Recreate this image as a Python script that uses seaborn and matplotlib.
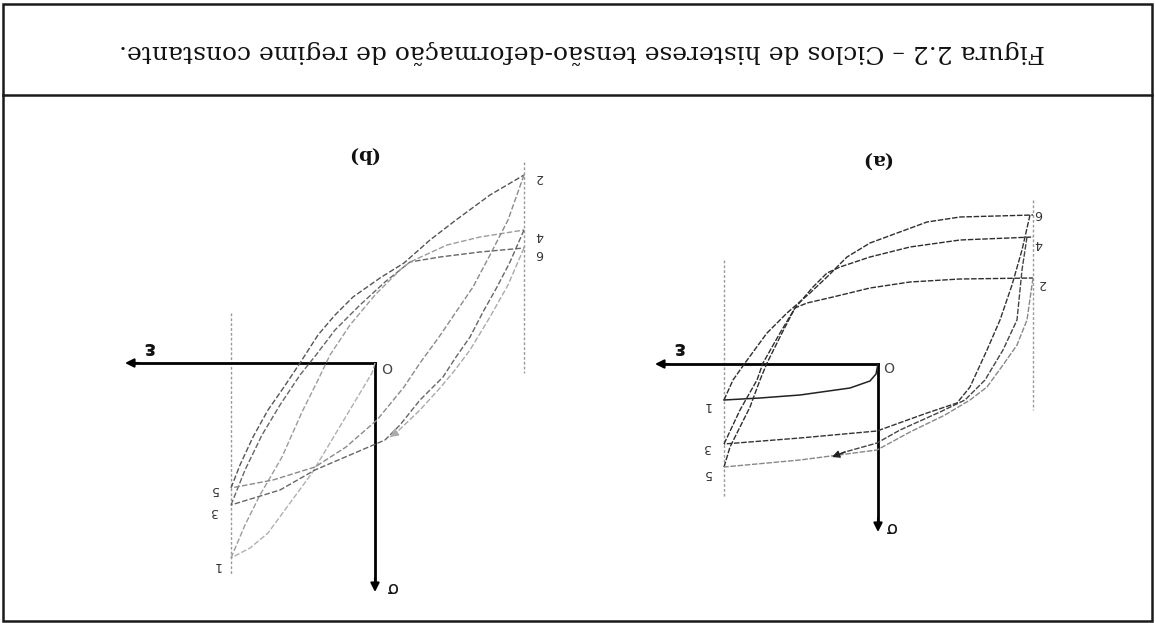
import matplotlib
matplotlib.use("Agg")
import matplotlib.pyplot as plt
from matplotlib.patches import Rectangle
import seaborn as sns

W, H = 1155, 623

caption = "Figura 2.2 – Ciclos de histerese tensão-deformação de regime constante."

# ---------------------------------------------------------------------------
# Panel (a) - strain units (+ right) and stress units (+ up), drawing scale
# ---------------------------------------------------------------------------
a_strain_limits = [154, -155]
a_limit_top = [-104, -164]
a_limit_bottom = [134, 46]

a_initial_eps = [0, 2, 8, 28, 78, 118, 154]
a_initial_sig = [0, 10, 17, 24, 31, 34, 36]

# loading branches (from the + strain limit to the - strain limit)
a_load1_eps = [154, 145, 133, 111, 91, 68, 51, 31, 8, -49, -82, -155]
a_load1_sig = [36, 16, -1, -31, -51, -71, -87, -107, -121, -142, -147, -149]
a_load2_eps = [154, 138, 121, 115, 98, 83, 65, 51, 38, 8, -32, -82, -155]
a_load2_sig = [80, 46, 16, -1, -31, -56, -77, -91, -97, -107, -117, -124, -127]
a_load3_eps = [154, 148, 128, 118, 111, 96, 83, 71, 45, 8, -32, -82, -155]
a_load3_sig = [103, 83, 43, 16, -1, -31, -56, -61, -67, -76, -82, -85, -86]

# unloading branches (from the - strain limit back to the + strain limit)
a_unload1_eps = [-152, -144, -134, -122, -109, -92, -79, -49, 1, 78, 154]
a_unload1_sig = [-149, -114, -79, -44, -14, 23, 39, 49, 67, 74, 80]
a_unload2_eps = [-149, -144, -139, -125, -107, -87, -62, -22, 1, 33, 46]
a_unload2_sig = [-127, -94, -44, -14, 16, 36, 48, 66, 79, 88, 93]
a_unload3_eps = [-155, -149, -139, -125, -109, -92, -67, -32, 1, 78, 154]
a_unload3_sig = [-86, -44, -19, 1, 23, 36, 51, 68, 86, 96, 103]

a_point_names = ["1", "3", "5", "2", "4", "6"]
a_point_eps = [171, 171, 171, -164, -160, -160]
a_point_sig = [41, 84, 109, -81, -121, -151]

a_axis_eps_tip = 223
a_axis_sig_tip = 168

# ---------------------------------------------------------------------------
# Panel (b)
# ---------------------------------------------------------------------------
b_strain_limits = [144, -149]
b_limit_top = [-50, -201]
b_limit_bottom = [212, 10]

b_initial_eps = [0, 3, 27, 63, 107, 125, 144]
b_initial_sig = [0, 10, 50, 110, 170, 185, 195]

b_load1_eps = [144, 135, 122, 107, 91, 75, 57, 40, 22, -5, -29, -55, -81, -115, -149]
b_load1_sig = [125, 102, 74, 47, 24, 0, -28, -48, -66, -85, -100, -123, -143, -168, -188]
b_load2_eps = [144, 130, 113, 95, 75, 59, 40, 15, -10, -35, -65, -105, -149]
b_load2_sig = [142, 107, 72, 42, 12, -8, -33, -58, -81, -101, -106, -111, -115]
b_load3_eps = [144, 130, 115, 93, 73, 57, 45, 25, 0, -25, -35, -72, -105, -149]
b_load3_sig = [195, 162, 132, 94, 49, 17, -8, -38, -68, -93, -101, -118, -126, -133]

b_unload1_eps = [-149, -133, -115, -98, -81, -64, -45, -29, -2, 29, 60, 102, 144]
b_unload1_sig = [-188, -143, -108, -76, -51, -26, 0, 24, 57, 84, 104, 117, 125]
b_unload2_eps = [-149, -135, -122, -108, -95, -81, -68, -45, -25, -10, 25, 60, 95, 144]
b_unload2_sig = [-133, -101, -76, -51, -26, -6, 14, 37, 62, 77, 92, 107, 127, 142]
b_unload3_eps = [-149, -133, -115, -95, -80, -65, -45, -22, -15]
b_unload3_sig = [-115, -78, -46, -13, 7, 25, 47, 69, 74]

b_point_names = ["1", "3", "5", "2", "4", "6"]
b_point_eps = [158, 161, 161, -164, -164, -164]
b_point_sig = [203, 148, 127, -185, -128, -110]

b_axis_eps_tip = 250
b_axis_sig_tip = 229

# ---------------------------------------------------------------------------
fig = plt.figure(figsize=(W / 100, H / 100), dpi=100)
fig.patch.set_facecolor("white")

# page frame and caption band, in pixel units
frame = fig.add_axes([0, 0, 1, 1])
frame.set_xlim(0, W)
frame.set_ylim(H, 0)
frame.set_axis_off()
frame.add_patch(Rectangle((2.5, 3.5), 1149, 617, fill=False, lw=1.8, ec="#1a1a1a"))
frame.plot([2.5, 1151.5], [95, 95], color="#1a1a1a", lw=1.8)
frame.text(582, 52, caption, rotation=180, ha="center", va="center",
           fontsize=18, family="DejaVu Serif", color="#111")


def panel(origin, box):
    """Axes whose data units are drawing pixels, turned upside down."""
    ox, oy = origin
    x0, y0, x1, y1 = box
    ax = fig.add_axes([x0 / W, 1 - y1 / H, (x1 - x0) / W, (y1 - y0) / H])
    ax.set_xlim(ox - x0, ox - x1)
    ax.set_ylim(y1 - oy, y0 - oy)
    ax.set_axis_off()
    ax.patch.set_alpha(0)
    return ax


def curve(ax, eps, sig, color="#3a3a3a", dash=(0, (4, 1.2)), lw=1.0):
    sns.lineplot(x=eps, y=sig, sort=False, estimator=None, ax=ax, color=color,
                 lw=lw, linestyle=dash, legend=False)


def axes_arrows(ax, eps_tip, sig_tip):
    curve(ax, [0, eps_tip - 8], [0, 0], color="black", dash="-", lw=2.0)
    curve(ax, [0, 0], [0, sig_tip - 8], color="black", dash="-", lw=2.0)
    ax.annotate("", xy=(eps_tip, 0), xytext=(eps_tip - 14, 0),
                arrowprops=dict(arrowstyle="-|>", color="black", lw=1.5,
                                mutation_scale=13, shrinkA=0, shrinkB=0))
    ax.annotate("", xy=(0, sig_tip), xytext=(0, sig_tip - 14),
                arrowprops=dict(arrowstyle="-|>", color="black", lw=1.5,
                                mutation_scale=13, shrinkA=0, shrinkB=0))


def limits(ax, eps_list, tops, bottoms):
    for e, t, b in zip(eps_list, tops, bottoms):
        curve(ax, [e, e], [t, b], color="#9a9a9a", dash=(0, (2, 1.5)), lw=1.0)


def labels(ax, names, eps, sig):
    for n, e, s in zip(names, eps, sig):
        ax.text(e, s, n, rotation=180, ha="center", va="center", fontsize=9,
                color="#333", family="DejaVu Sans")


def common_text(ax, title, title_pos, eps_pos, sig_pos, o_pos):
    ax.text(*title_pos, title, rotation=180, ha="center", va="center",
            fontsize=14, fontweight="bold", family="DejaVu Serif", color="#111")
    ax.text(*eps_pos, "ε", rotation=180, ha="center", va="center",
            fontsize=15, fontweight="bold", color="#111")
    ax.text(*sig_pos, "σ", rotation=180, ha="center", va="center",
            fontsize=13, color="#111")
    ax.text(*o_pos, "O", rotation=180, ha="center", va="center",
            fontsize=10, color="#444")


# ----- panel (a)
ax_a = panel((878, 364), (600, 120, 1100, 600))
limits(ax_a, a_strain_limits, a_limit_top, a_limit_bottom)
axes_arrows(ax_a, a_axis_eps_tip, a_axis_sig_tip)
curve(ax_a, a_initial_eps, a_initial_sig, color="#222", dash="-", lw=1.1)
for e, s in [(a_load1_eps, a_load1_sig), (a_load2_eps, a_load2_sig),
             (a_load3_eps, a_load3_sig)]:
    curve(ax_a, e, s, color="#2e2e2e")
for e, s, c in [(a_unload1_eps, a_unload1_sig, "#333"),
                (a_unload2_eps, a_unload2_sig, "#444"),
                (a_unload3_eps, a_unload3_sig, "#888")]:
    curve(ax_a, e, s, color=c)
ax_a.annotate("", xy=(a_unload2_eps[-1], a_unload2_sig[-1]),
              xytext=(a_unload2_eps[-2], a_unload2_sig[-2]),
              arrowprops=dict(arrowstyle="-|>", color="#222", lw=1.0,
                              mutation_scale=11, shrinkA=0, shrinkB=0))
labels(ax_a, a_point_names, a_point_eps, a_point_sig)
common_text(ax_a, "(a)", (2, -205), (200, -16), (-12, 163), (-11, 1))

# ----- panel (b)
ax_b = panel((375, 363), (90, 120, 590, 605))
limits(ax_b, b_strain_limits, b_limit_top, b_limit_bottom)
axes_arrows(ax_b, b_axis_eps_tip, b_axis_sig_tip)
curve(ax_b, b_initial_eps, b_initial_sig, color="#b0b0b0", dash=(0, (4, 1.5)))
for e, s, c in [(b_load1_eps, b_load1_sig, "#555"),
                (b_load2_eps, b_load2_sig, "#666"),
                (b_load3_eps, b_load3_sig, "#9c9c9c")]:
    curve(ax_b, e, s, color=c, dash=(0, (4, 1.6)))
for e, s, c in [(b_unload1_eps, b_unload1_sig, "#8a8a8a"),
                (b_unload2_eps, b_unload2_sig, "#666"),
                (b_unload3_eps, b_unload3_sig, "#aaaaaa")]:
    curve(ax_b, e, s, color=c, dash=(0, (4, 1.6)))
ax_b.annotate("", xy=(b_unload3_eps[-1], b_unload3_sig[-1]),
              xytext=(b_unload3_eps[-2], b_unload3_sig[-2]),
              arrowprops=dict(arrowstyle="-|>", color="#aaaaaa", lw=1.0,
                              mutation_scale=12, shrinkA=0, shrinkB=0))
labels(ax_b, b_point_names, b_point_eps, b_point_sig)
common_text(ax_b, "(b)", (13, -209), (227, -15), (-16, 224), (-12, 3))

fig.savefig("out.png", dpi=100, facecolor="white")
